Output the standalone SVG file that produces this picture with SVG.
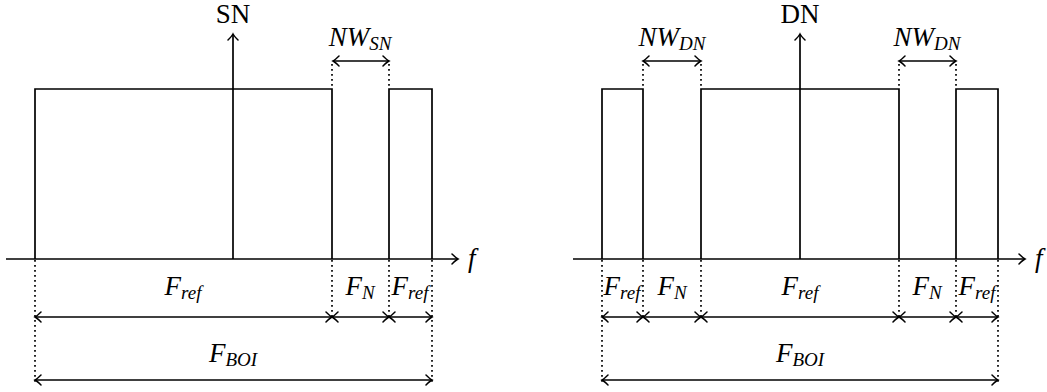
<svg xmlns="http://www.w3.org/2000/svg" width="1047" height="392" viewBox="0 0 1047 392">
<style>
.ln{stroke:#000;stroke-width:1.7;fill:none}
.dt{stroke:#000;stroke-width:1.7;fill:none;stroke-dasharray:1.7 3.3}
.t{font-family:"Liberation Serif",serif;font-size:27px;fill:#000}
.i{font-style:italic}
.s{font-size:19px}
</style>
<defs>
<marker id="ah" viewBox="-8 -6 10 12" refX="0" refY="0" markerWidth="10" markerHeight="12" markerUnits="userSpaceOnUse" orient="auto-start-reverse">
<path d="M-6,-5 Q-2,-1 0,0 Q-2,1 -6,5" stroke="#000" stroke-width="1.5" fill="none" stroke-linecap="round"/>
</marker>
</defs>
<rect width="1047" height="392" fill="#fff"/>
<g id="connectors">
<line class="ln" x1="6" y1="259" x2="458" y2="259" marker-end="url(#ah)"/>
<line class="ln" x1="233" y1="259" x2="233" y2="34" marker-end="url(#ah)"/>
<line class="ln" x1="333" y1="61" x2="389" y2="61" marker-start="url(#ah)" marker-end="url(#ah)"/>
<line class="ln" x1="35" y1="317" x2="332" y2="317" marker-start="url(#ah)" marker-end="url(#ah)"/>
<line class="ln" x1="332" y1="317" x2="389" y2="317" marker-start="url(#ah)" marker-end="url(#ah)"/>
<line class="ln" x1="389" y1="317" x2="432" y2="317" marker-start="url(#ah)" marker-end="url(#ah)"/>
<line class="ln" x1="35" y1="380" x2="432" y2="380" marker-start="url(#ah)" marker-end="url(#ah)"/>
<line class="ln" x1="573" y1="259" x2="1025" y2="259" marker-end="url(#ah)"/>
<line class="ln" x1="800" y1="259" x2="800" y2="34" marker-end="url(#ah)"/>
<line class="ln" x1="643" y1="61" x2="701" y2="61" marker-start="url(#ah)" marker-end="url(#ah)"/>
<line class="ln" x1="899" y1="61" x2="956" y2="61" marker-start="url(#ah)" marker-end="url(#ah)"/>
<line class="ln" x1="602" y1="317" x2="643" y2="317" marker-start="url(#ah)" marker-end="url(#ah)"/>
<line class="ln" x1="643" y1="317" x2="701" y2="317" marker-start="url(#ah)" marker-end="url(#ah)"/>
<line class="ln" x1="701" y1="317" x2="899" y2="317" marker-start="url(#ah)" marker-end="url(#ah)"/>
<line class="ln" x1="899" y1="317" x2="956" y2="317" marker-start="url(#ah)" marker-end="url(#ah)"/>
<line class="ln" x1="956" y1="317" x2="998" y2="317" marker-start="url(#ah)" marker-end="url(#ah)"/>
<line class="ln" x1="602" y1="380" x2="998" y2="380" marker-start="url(#ah)" marker-end="url(#ah)"/>
</g>
<g id="left-spectrum">
<polyline class="ln" points="35,259 35,89 332,89 332,259"/>
<polyline class="ln" points="389,259 389,89 432,89 432,259"/>
<line class="dt" x1="332" y1="64" x2="332" y2="89"/>
<line class="dt" x1="389" y1="64" x2="389" y2="89"/>
<line class="dt" x1="35" y1="260" x2="35" y2="384"/>
<line class="dt" x1="432" y1="260" x2="432" y2="384"/>
<line class="dt" x1="332" y1="260" x2="332" y2="318"/>
<line class="dt" x1="389" y1="260" x2="389" y2="318"/>
</g>
<g id="right-spectrum">
<polyline class="ln" points="602,259 602,89 643,89 643,259"/>
<polyline class="ln" points="701,259 701,89 899,89 899,259"/>
<polyline class="ln" points="956,259 956,89 998,89 998,259"/>
<line class="dt" x1="643" y1="64" x2="643" y2="89"/>
<line class="dt" x1="701" y1="64" x2="701" y2="89"/>
<line class="dt" x1="899" y1="64" x2="899" y2="89"/>
<line class="dt" x1="956" y1="64" x2="956" y2="89"/>
<line class="dt" x1="602" y1="260" x2="602" y2="384"/>
<line class="dt" x1="998" y1="260" x2="998" y2="384"/>
<line class="dt" x1="643" y1="260" x2="643" y2="318"/>
<line class="dt" x1="701" y1="260" x2="701" y2="318"/>
<line class="dt" x1="899" y1="260" x2="899" y2="318"/>
<line class="dt" x1="956" y1="260" x2="956" y2="318"/>
</g>
<g id="labels-left">
<text class="t" x="233" y="23" text-anchor="middle">SN</text>
<text class="t i" x="360" y="46" text-anchor="middle">NW<tspan class="s" dy="4">SN</tspan></text>
<text class="t i" x="468" y="267">f</text>
<text class="t i" x="183" y="295" text-anchor="middle">F<tspan class="s" dy="4">ref</tspan></text>
<text class="t i" x="360" y="295" text-anchor="middle">F<tspan class="s" dy="4">N</tspan></text>
<text class="t i" x="410" y="295" text-anchor="middle">F<tspan class="s" dy="4">ref</tspan></text>
<text class="t i" x="233" y="362" text-anchor="middle">F<tspan class="s" dy="4">BOI</tspan></text>
</g>
<g id="labels-right">
<text class="t" x="800" y="23" text-anchor="middle">DN</text>
<text class="t i" x="672" y="46" text-anchor="middle">NW<tspan class="s" dy="4">DN</tspan></text>
<text class="t i" x="927" y="46" text-anchor="middle">NW<tspan class="s" dy="4">DN</tspan></text>
<text class="t i" x="1035" y="267">f</text>
<text class="t i" x="622" y="295" text-anchor="middle">F<tspan class="s" dy="4">ref</tspan></text>
<text class="t i" x="672" y="295" text-anchor="middle">F<tspan class="s" dy="4">N</tspan></text>
<text class="t i" x="800" y="295" text-anchor="middle">F<tspan class="s" dy="4">ref</tspan></text>
<text class="t i" x="927" y="295" text-anchor="middle">F<tspan class="s" dy="4">N</tspan></text>
<text class="t i" x="977" y="295" text-anchor="middle">F<tspan class="s" dy="4">ref</tspan></text>
<text class="t i" x="800" y="362" text-anchor="middle">F<tspan class="s" dy="4">BOI</tspan></text>
</g>
</svg>
